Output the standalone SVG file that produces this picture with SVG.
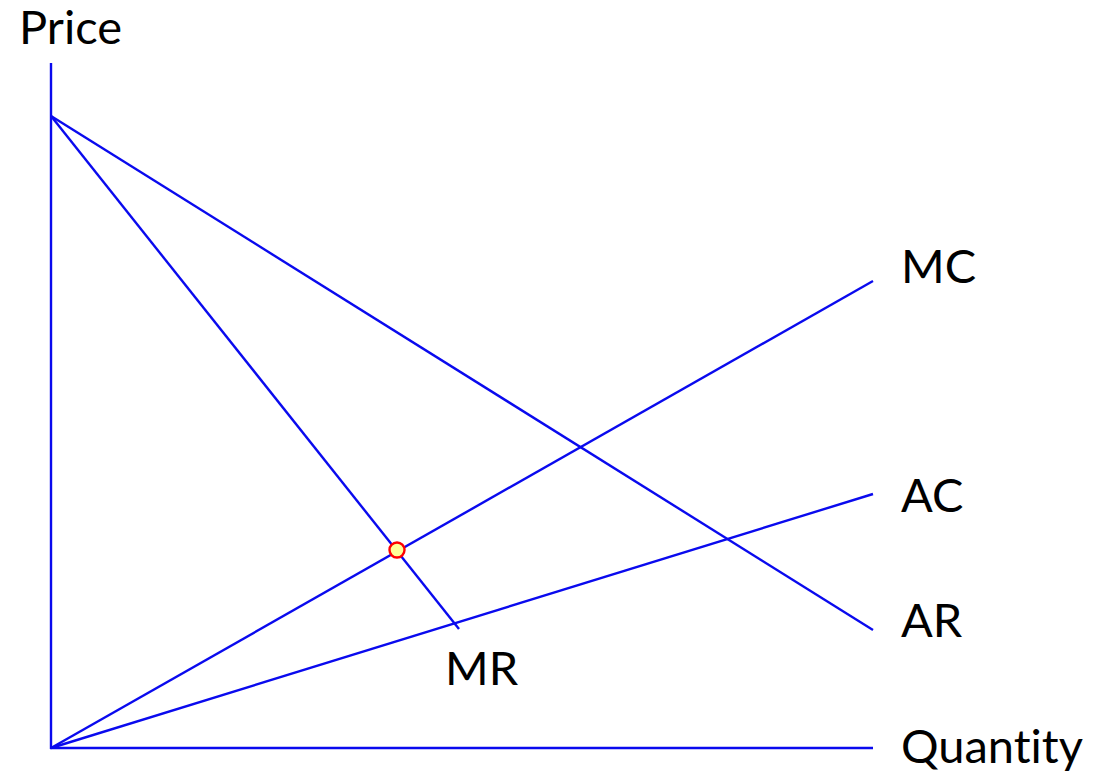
<svg xmlns="http://www.w3.org/2000/svg" width="1097" height="774" viewBox="0 0 1097 774">
<style>
.ln{stroke:#0a0aee;stroke-width:2.4;fill:none;stroke-linecap:butt}
.lb{font-family:Lato,"Liberation Sans",sans-serif;font-size:47px;fill:#000;font-variant-ligatures:none;font-feature-settings:"liga" 0}
</style>
<rect width="1097" height="774" fill="#fff"/>
<g id="connectors">
<line class="ln" x1="51" y1="63" x2="51" y2="749"/>
<line class="ln" x1="50" y1="748" x2="873" y2="748"/>
<line class="ln" x1="51" y1="116" x2="873" y2="630"/>
<line class="ln" x1="51" y1="116" x2="459" y2="629"/>
<line class="ln" x1="51" y1="748" x2="873" y2="281"/>
<line class="ln" x1="51" y1="748" x2="873" y2="494"/>
</g>
<g id="equilibrium"><circle cx="397" cy="550" r="7.5" fill="#ffff99" stroke="#ff0000" stroke-width="2.4"/></g>
<g id="label-price"><text class="lb" x="19" y="44">Price</text></g>
<g id="label-mc"><text class="lb" x="901" y="283">MC</text></g>
<g id="label-ac"><text class="lb" x="901" y="512">AC</text></g>
<g id="label-ar"><text class="lb" x="901" y="637">AR</text></g>
<g id="label-mr"><text class="lb" x="445" y="685">MR</text></g>
<g id="label-quantity"><text class="lb" x="901" y="763">Quantity</text></g>
</svg>
